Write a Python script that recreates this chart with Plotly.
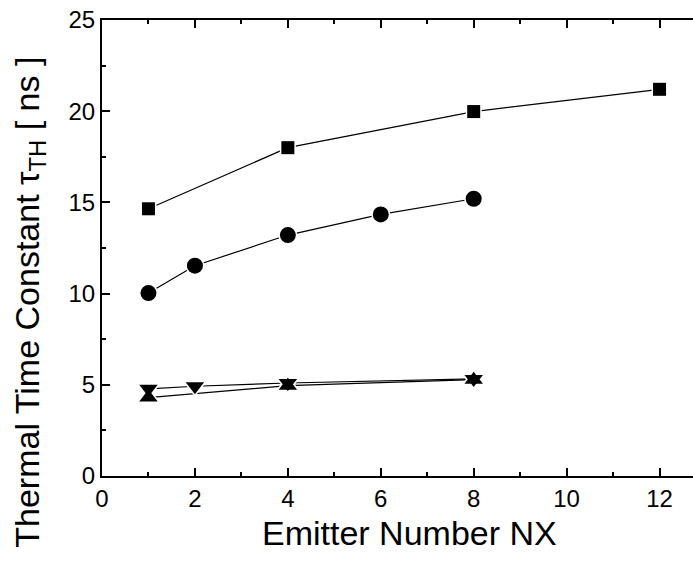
import plotly.graph_objects as go

x_sq = [1, 4, 8, 12]
y_sq = [14.65, 18.0, 19.98, 21.2]
x_ci = [1, 2, 4, 6, 8]
y_ci = [10.03, 11.53, 13.21, 14.34, 15.2]
x_dn = [1, 2, 4, 8]
y_dn = [4.78, 4.92, 5.1, 5.32]
x_up = [1, 4, 8]
y_up = [4.3, 4.95, 5.28]

x_ticks = [0, 2, 4, 6, 8, 10, 12]
y_ticks = [0, 5, 10, 15, 20, 25]

FONT = "Arial, Liberation Sans, Helvetica, sans-serif"

series = [
    (x_up, y_up, "triangle-up", 16),
    (x_dn, y_dn, "triangle-down", 16),
    (x_ci, y_ci, "circle", 16),
    (x_sq, y_sq, "square", 13),
]

fig = go.Figure()
for x, y, sym, sz in series:
    fig.add_trace(go.Scatter(x=x, y=y, mode="lines",
                             line=dict(color="black", width=1.2),
                             showlegend=False, hoverinfo="skip"))
for x, y, sym, sz in series:
    fig.add_trace(go.Scatter(x=x, y=y, mode="markers",
                             marker=dict(symbol=sym, size=sz, color="white",
                                         line=dict(color="white", width=3)),
                             showlegend=False, hoverinfo="skip",
                             cliponaxis=False))
for x, y, sym, sz in series:
    fig.add_trace(go.Scatter(x=x, y=y, mode="markers",
                             marker=dict(symbol=sym, size=sz, color="black",
                                         line=dict(width=0)),
                             showlegend=False, cliponaxis=False))

axis_common = dict(
    showline=True, linecolor="black", linewidth=2,
    ticks="inside", ticklen=8, tickwidth=1.5, tickcolor="black",
    showgrid=False, zeroline=False,
    tickfont=dict(family=FONT, size=24, color="black"),
)

fig.update_xaxes(range=[0, 12.72], tickvals=x_ticks, mirror="ticks",
                 minor=dict(ticks="inside", ticklen=4, tickwidth=1.5,
                            tickcolor="black", dtick=1, tick0=0),
                 **axis_common)
fig.update_yaxes(range=[0, 25], tickvals=y_ticks, mirror=False,
                 minor=dict(ticks="inside", ticklen=4, tickwidth=1.5,
                            tickcolor="black", dtick=2.5, tick0=0),
                 **axis_common)

fig.add_annotation(text="Emitter Number NX", xref="paper", yref="paper",
                   x=0.521, y=0, xanchor="center", yanchor="middle",
                   yshift=-57, showarrow=False,
                   font=dict(family=FONT, size=34, color="black"))
fig.add_annotation(text="Thermal Time Constant τ<sub>TH</sub> [ ns ]",
                   xref="paper", yref="paper", x=0, y=0.38,
                   xanchor="center", yanchor="middle", xshift=-72,
                   textangle=-90, showarrow=False,
                   font=dict(family=FONT, size=34, color="black"))

fig.update_layout(
    width=693, height=562,
    margin=dict(l=102, r=0, t=20, b=85.5),
    plot_bgcolor="white", paper_bgcolor="white",
)

fig.write_html("out.html")
